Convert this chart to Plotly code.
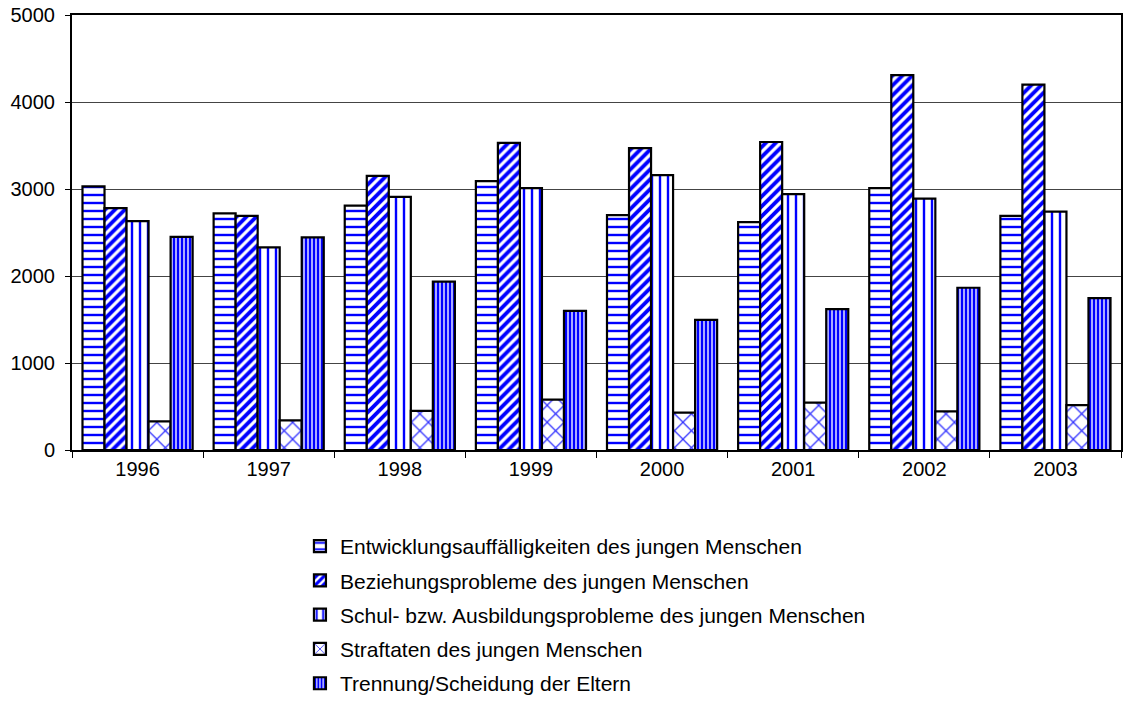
import plotly.graph_objects as go

years = ["1996", "1997", "1998", "1999", "2000", "2001", "2002", "2003"]

entwicklung = [3030, 2720, 2810, 3090, 2700, 2620, 3010, 2690]
beziehung = [2780, 2690, 3150, 3530, 3470, 3540, 4310, 4200]
schule = [2630, 2330, 2910, 3010, 3160, 2940, 2890, 2740]
straftaten = [330, 340, 450, 580, 430, 545, 445, 515]
trennung = [2450, 2445, 1935, 1600, 1495, 1620, 1865, 1745]

series_names = [
    "Entwicklungsauffälligkeiten des jungen Menschen",
    "Beziehungsprobleme des jungen Menschen",
    "Schul- bzw. Ausbildungsprobleme des jungen Menschen",
    "Straftaten des jungen Menschen",
    "Trennung/Scheidung der Eltern",
]
series_values = [entwicklung, beziehung, schule, straftaten, trennung]

patterns = [
    dict(shape="-", fgcolor="#0000FF", bgcolor="#FFFFFF", size=8, solidity=0.3, fgopacity=1),
    dict(shape="/", fgcolor="#0000FF", bgcolor="#FFFFFF", size=7, solidity=0.55, fgopacity=1),
    dict(shape="|", fgcolor="#0000FF", bgcolor="#FFFFFF", size=8, solidity=0.3, fgopacity=1),
    dict(shape="x", fgcolor="#3333FF", bgcolor="#FFFFFF", size=12, solidity=0.2, fgopacity=1),
    dict(shape="|", fgcolor="#0000FF", bgcolor="#AAAAFF", size=4, solidity=0.5, fgopacity=1),
]

FONT = "Liberation Sans, Arial, sans-serif"

fig = go.Figure()
for i, (name, vals, pat) in enumerate(zip(series_names, series_values, patterns)):
    fig.add_trace(go.Bar(
        x=years, y=vals, name=name,
        legendgroup=f"g{i}",
        marker=dict(color="#FFFFFF", pattern=pat,
                    line=dict(color="#000000", width=2.2)),
    ))

fig.update_layout(
    width=1123, height=726,
    margin=dict(l=72, r=2, t=15, b=275.5, autoexpand=False),
    paper_bgcolor="white", plot_bgcolor="white",
    barmode="group", bargap=0.16, bargroupgap=0,
    font=dict(family=FONT, size=20, color="#000000"),
    showlegend=True,
    legend=dict(
        x=0.2173, xanchor="left", y=-0.1745, yanchor="top",
        orientation="v", tracegroupgap=4,
        font=dict(family=FONT, size=21, color="#000000"),
        bgcolor="rgba(0,0,0,0)",
    ),
)

fig.update_xaxes(
    showline=True, linecolor="#000000", linewidth=2, mirror=True,
    ticks="outside", ticklen=6, tickcolor="#000000", tickwidth=1,
    tickson="boundaries", showgrid=False, automargin=False,
    tickfont=dict(family=FONT, size=20, color="#000000"),
)
fig.update_yaxes(
    range=[0, 5000], dtick=1000, tick0=0,
    showline=True, linecolor="#000000", linewidth=2, mirror=True,
    ticks="outside", ticklen=5, tickcolor="#000000", tickwidth=1,
    showgrid=True, gridcolor="#444444", gridwidth=1,
    zeroline=False, automargin=False,
    tickfont=dict(family=FONT, size=20, color="#000000"),
    ticklabelstandoff=6,
)

fig.write_html(
    "out.html",
    include_plotlyjs=True,
    config={"displayModeBar": False},
    post_script="document.body.style.margin='0';document.body.style.overflow='hidden';",
)
